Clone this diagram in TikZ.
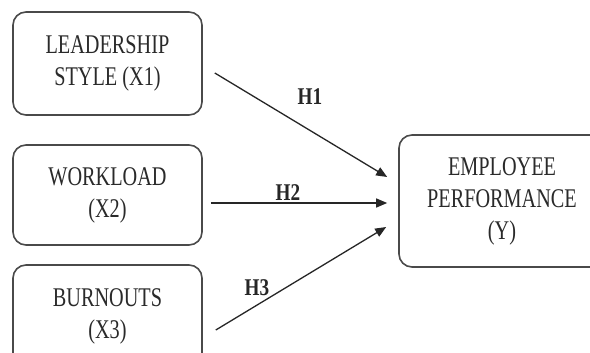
\documentclass[tikz,border=0pt]{standalone}
\usepackage{fontspec}
\setmainfont{Liberation Serif}
\newfontfamily\boxfont[FakeStretch=0.75]{Liberation Serif}
\newfontfamily\labelfont[FakeStretch=0.8]{Liberation Serif Bold}
\usetikzlibrary{arrows.meta,calc}
\definecolor{edgegray}{HTML}{4A4A4A}
\definecolor{txtgray}{HTML}{2A2A2A}
\tikzset{
  varbox/.style={draw=edgegray, line width=1.6pt, rounded corners=13pt,
    align=center, text=txtgray, inner sep=0pt,
    font=\boxfont\fontsize{27}{32}\selectfont},
  hyparrow/.style={line width=1.3pt, draw=black!85,
    -{Triangle[length=11pt,width=9pt]}},
  hyplabel/.style={font=\labelfont\fontsize{24}{26}\selectfont, text=black!85, inner sep=0pt}
}
\begin{document}
\begin{tikzpicture}[x=1pt,y=-1pt]
  \useasboundingbox (0,0) rectangle (590,353);
  \clip (0,0) rectangle (590,353);
  \fill[white] (0,0) rectangle (590,353);

  % independent variables
  \node[varbox, minimum width=189pt, minimum height=103pt] (b1) at (107.5,63.5) {LEADERSHIP\\STYLE (X1)};
  \node[varbox, minimum width=189pt, minimum height=100pt] (b2) at (107.5,195) {WORKLOAD\\(X2)};
  \node[varbox, minimum width=189pt, minimum height=103pt] (b3) at (107.5,316.5) {BURNOUTS\\(X3)};

  % dependent variable
  \node[varbox, minimum width=206pt, minimum height=132pt] (y) at (502,201) {EMPLOYEE\\PERFORMANCE\\(Y)};

  % arrow end points
  \coordinate (s1) at ($(b1.east)+(12,9.5)$);
  \coordinate (e1) at ($(y.west)+(-11,-24)$);
  \coordinate (s2) at ($(b2.east)+(8,8)$);
  \coordinate (e2) at ($(y.west)+(-11,2)$);
  \coordinate (s3) at ($(b3.east)+(13,13.5)$);
  \coordinate (e3) at ($(y.west)+(-12,26)$);

  \draw[hyparrow] (s1) -- (e1);
  \draw[hyparrow] (s2) -- (e2);
  \draw[hyparrow] (s3) -- (e3);

  % hypothesis labels
  \node[hyplabel] (h1) at (310,96.5) {H1};
  \node[hyplabel] (h2) at (288,193) {H2};
  \node[hyplabel] (h3) at (257,288) {H3};
\end{tikzpicture}
\end{document}
